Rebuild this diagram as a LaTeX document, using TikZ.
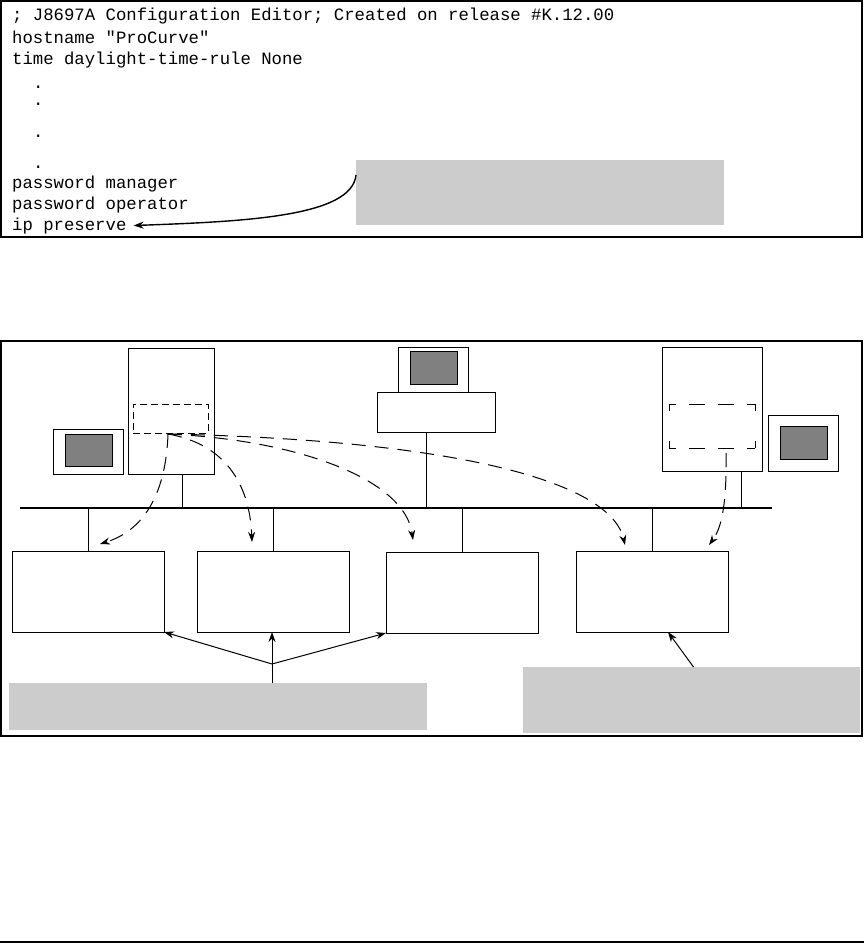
\documentclass[tikz,border=0pt]{standalone}
\usepackage{fontspec}
\setmonofont{Liberation Mono}
\usepackage{xcolor}
\usepackage{tikz}
\usetikzlibrary{arrows.meta}

\definecolor{notegray}{HTML}{CCCCCC}
\definecolor{screengray}{HTML}{808080}

\begin{document}
\begin{tikzpicture}[x=1pt,y=-1pt,>={Stealth[length=10pt,width=7pt]},
  frame/.style={draw,line width=2.4pt,inner sep=0pt,outer sep=0pt,anchor=north west},
  unit/.style={draw,line width=1pt,inner sep=0pt,outer sep=0pt,anchor=north west},
  screen/.style={unit,fill=screengray},
  note/.style={fill=notegray,inner sep=0pt,outer sep=0pt,anchor=north west},
  cfg/.style={inner sep=0pt,anchor=base west,font=\ttfamily\fontsize{17.3}{21}\selectfont},
  copyline/.style={->,line width=1pt,dash pattern=on 14pt off 9pt},
  link/.style={->,line width=1pt}]
\useasboundingbox (0,0) rectangle (864,952);

% config file listing
\node[frame,minimum width=861pt,minimum height=236pt](cfgbox) at (1,1) {};
\node[cfg](l1) at (12,21) {; J8697A Configuration Editor; Created on release \#K.12.00};
\node[cfg](l2) at (12,44) {hostname "ProCurve"};
\node[cfg](l3) at (12,65) {time daylight-time-rule None};
\node[cfg](d1) at (33,89) {.};
\node[cfg](d2) at (33,106) {.};
\node[cfg](d3) at (33,138) {.};
\node[cfg](d4) at (33,169) {.};
\node[cfg](l4) at (12,188) {password manager};
\node[cfg](l5) at (12,209) {password operator};
\node[cfg](l6) at (12,230) {ip preserve};
\node[note,minimum width=368pt,minimum height=65pt](topnote) at (356,160) {};
\draw[link,line width=1.4pt]([yshift=-15pt]topnote.north west)
  .. controls +(-4,42) and +(110,-4) .. ([xshift=7pt]l6.east);

% network
\node[frame,minimum width=861pt,minimum height=395pt](netbox) at (1,341) {};
\node[unit,minimum width=86pt,minimum height=126pt](leftsrv) at (128,348) {};
\node[unit,dash pattern=on 7pt off 4pt,minimum width=75pt,minimum height=29pt](leftdash) at (133,404) {};
\node[unit,minimum width=70pt,minimum height=45pt](leftmon) at (53,429) {};
\node[screen,minimum width=47pt,minimum height=32pt](leftscr) at (65,434) {};
\node[unit,minimum width=70pt,minimum height=45pt](midmon) at (398,347) {};
\node[screen,minimum width=47pt,minimum height=33pt](midscr) at (410,351) {};
\node[unit,minimum width=118pt,minimum height=40pt](midbase) at (377,392) {};
\node[unit,minimum width=100pt,minimum height=124pt](rightsrv) at (662,347) {};
\node[unit,draw=none,minimum width=86pt,minimum height=44pt](rightdash) at (669,404) {};
\draw[line width=1pt,dash pattern=on 16pt off 13pt,dash phase=9pt]
  (rightdash.north west) -- (rightdash.north east)
  (rightdash.south west) -- (rightdash.south east);
\draw[line width=1pt,dash pattern=on 7pt off 30pt]
  (rightdash.north west) -- (rightdash.south west)
  (rightdash.north east) -- (rightdash.south east);
\node[unit,minimum width=70pt,minimum height=56pt](rightmon) at (768,415) {};
\node[screen,minimum width=47pt,minimum height=33pt](rightscr) at (780,426) {};

\coordinate(busL) at (20,508);
\coordinate(busR) at (772,508);
\draw[line width=2pt](busL) -- (busR);
\coordinate(tapA) at (182,508);
\coordinate(tapB) at (426,508);
\coordinate(tapC) at (741,508);
\draw[line width=1pt](leftsrv.south -| tapA) -- (tapA)
  (midbase.south -| tapB) -- (tapB)
  (rightsrv.south -| tapC) -- (tapC);

\foreach \n/\x/\y in {1/12/551,2/197/551,3/386/552,4/576/551}
  \node[unit,minimum width=152pt,minimum height=81pt](sw\n) at (\x,\y) {};
\foreach \n in {1,...,4}
  \draw[line width=1pt](sw\n.north) -- (sw\n.north |- busL);

% copies of the file
\coordinate(src) at (168,434);
\coordinate(tipA) at (100,544);
\coordinate(tipB) at (252,542);
\coordinate(tipC) at (413,540);
\coordinate(tipD) at (625,545);
\coordinate(tipE) at (709,545);
\draw[copyline](src) .. controls (166,492) and (145,530) .. (tipA);
\draw[copyline](src) .. controls (230,445) and (250,490) .. (tipB);
\draw[copyline](src) .. controls (300,440) and (405,480) .. (tipC);
\draw[copyline](src) .. controls (450,440) and (610,480) .. (tipD);
\draw[copyline]([shift={(14,5)}]rightdash.south) .. controls (727,510) and (720,530) .. (tipE);

% notes
\node[note,minimum width=418pt,minimum height=47pt](leftnote) at (9,683) {};
\node[note,minimum width=337pt,minimum height=66pt](rightnote) at (523,667) {};
\coordinate(fork) at (272,664);
\draw[line width=1pt](fork |- leftnote.north) -- (fork);
\draw[link](fork) -- (sw1.south east);
\draw[link](fork) -- (sw2.south -| fork);
\draw[link](fork) -- (sw3.south west);
\draw[link]([xshift=2pt]rightnote.north) -- ([xshift=16pt]sw4.south);

\draw[line width=1.5pt](0,942) -- (864,942);
\end{tikzpicture}
\end{document}
